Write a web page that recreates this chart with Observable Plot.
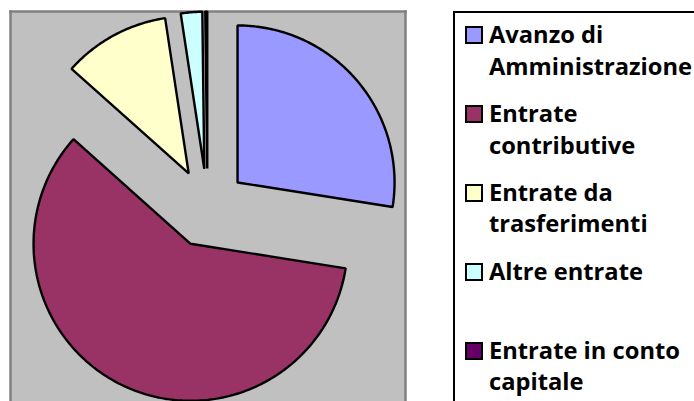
<!DOCTYPE html>
<html><head><meta charset="utf-8">
<script src="https://cdn.jsdelivr.net/npm/d3@7"></script>
<script src="https://cdn.jsdelivr.net/npm/@observablehq/plot@0.6"></script>
<style>
html,body{margin:0;padding:0;background:#fff;overflow:hidden}
#wrap{position:relative;width:694px;height:401px;overflow:hidden}
#chart{position:absolute;left:0;top:0}
#legend{position:absolute;left:453px;top:11px;width:300px;height:430px;border:2px solid #000;box-sizing:border-box;background:#fff}
.item{position:absolute;left:0;font-family:"Open Sans",sans-serif;font-weight:bold;font-size:23.7px;line-height:31.5px;color:#000;white-space:nowrap}
.sw{position:absolute;width:18px;height:18px;border:2px solid #000;box-sizing:border-box}
.txt{position:absolute;left:34px;top:0}
</style></head><body><div id="wrap"><div id="chart"></div><div id="legend"></div></div>
<script>
const categories = ["Avanzo di Amministrazione","Entrate contributive","Entrate da trasferimenti","Altre entrate","Entrate in conto capitale"];
const values = [27.5, 59.1, 11.0, 2.2, 0.2];
const colors = ["#9999FF","#993366","#FFFFCC","#CCFFFF","#660066"];
const legendLines = [["Avanzo di","Amministrazione"],["Entrate","contributive"],["Entrate da","trasferimenti"],["Altre entrate"],["Entrate in conto","capitale"]];

const explode = 0.2516;
const arcs = d3.pie().sort(null).value(d => d)(values);
const pts = [];
arcs.forEach((a, i) => {
  const mid = (a.startAngle + a.endAngle) / 2;
  const ox = explode * Math.sin(mid), oy = explode * Math.cos(mid);
  pts.push({name: categories[i], x: ox, y: oy});
  const n = Math.max(2, Math.ceil((a.endAngle - a.startAngle) / 0.01));
  for (let k = 0; k <= n; k++) {
    const t = a.startAngle + (a.endAngle - a.startAngle) * k / n;
    pts.push({name: categories[i], x: ox + Math.sin(t), y: oy + Math.cos(t)});
  }
});

const chart = Plot.plot({
  width: 694, height: 401,
  marginLeft: 10, marginRight: 289, marginTop: 11, marginBottom: 0,
  x: {domain: [-1.2548, 1.2611], axis: null},
  y: {domain: [-1.2318, 1.2522], axis: null},
  color: {domain: categories, range: colors},
  style: {background: "transparent", overflow: "visible"},
  marks: [
    Plot.frame({fill: "#C0C0C0", stroke: null}),
    Plot.frame({anchor: "left", stroke: "#808080", strokeWidth: 2.5}),
    Plot.frame({anchor: "top", stroke: "#808080", strokeWidth: 2.5}),
    Plot.frame({anchor: "right", stroke: "#808080", strokeWidth: 2.5}),
    Plot.line(pts, {x: "x", y: "y", z: "name", fill: "name", stroke: "#000", strokeWidth: 2.4, curve: "linear-closed", strokeLinejoin: "miter"})
  ]
});
document.getElementById("chart").appendChild(chart);

const legend = document.getElementById("legend");
categories.forEach((c, i) => {
  const baseline = 44.3 + i * 78.8 - 13; // relative to legend box inner top
  const item = document.createElement("div");
  item.className = "item";
  item.style.top = (baseline - 25) + "px";
  item.style.left = "0px";
  const sw = document.createElement("div");
  sw.className = "sw";
  sw.style.left = "10px";
  sw.style.top = "7px";
  sw.style.background = colors[i];
  item.appendChild(sw);
  const t = document.createElement("div");
  t.className = "txt";
  t.innerHTML = legendLines[i].join("<br>");
  item.appendChild(t);
  legend.appendChild(item);
});
</script></body></html>
